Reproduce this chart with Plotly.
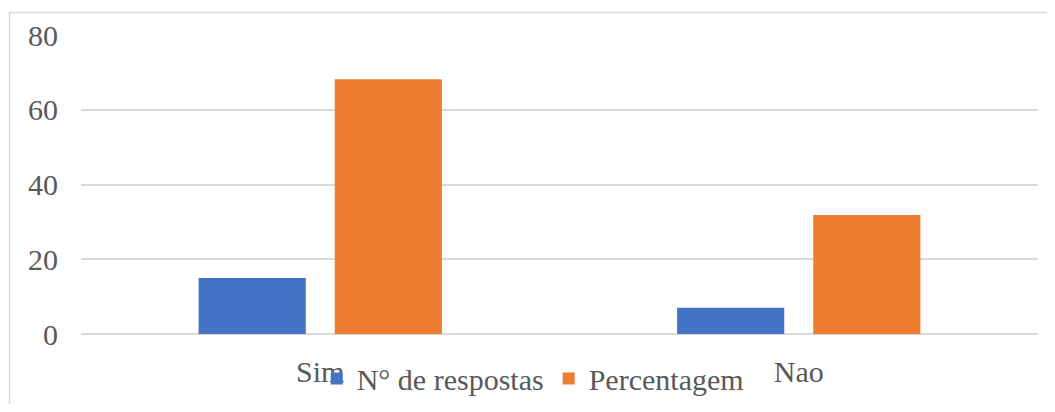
import plotly.graph_objects as go

categories = ["Sim", "Nao"]
respostas = [15, 7]
percentagem = [68.18, 31.82]
y_ticks = [0, 20, 40, 60, 80]

# page body has an 8px margin, so the figure starts at (8, 8)
OFF = 8
W, H = 1055 - 2 * OFF, 412 - 2 * OFF
ml, mt = 81 - OFF, 35 - OFF
pw, ph = 957, 299
mr, mb = W - ml - pw, H - mt - ph

def px_x(x):
    return (x - OFF - ml) / pw

def px_y(y):
    return (mt + ph - (y - OFF)) / ph

font_family = "Liberation Serif, Times New Roman, serif"
txt_color = "#595959"
grid_color = "#d9d9d9"
fs = 30

fig = go.Figure()
fig.add_trace(go.Bar(name="N° de respostas", x=categories, y=respostas,
                     marker=dict(color="#4472C4", line=dict(width=0))))
fig.add_trace(go.Bar(name="Percentagem", x=categories, y=percentagem,
                     marker=dict(color="#ED7D31", line=dict(width=0))))

fig.update_layout(
    width=W, height=H,
    margin=dict(l=ml, r=mr, t=mt, b=mb, autoexpand=False),
    paper_bgcolor="white", plot_bgcolor="white",
    barmode="group", bargap=0.431, bargroupgap=0.213,
    font=dict(family=font_family, size=fs, color=txt_color),
    showlegend=True,
    legend=dict(orientation="h", x=0.472, xanchor="center", y=-0.062, yanchor="top",
                font=dict(family=font_family, size=fs, color=txt_color),
                bgcolor="rgba(0,0,0,0)", itemwidth=30),
    xaxis=dict(showgrid=False, showline=False, zeroline=False, ticks="", automargin=False,
               tickfont=dict(family=font_family, size=fs, color=txt_color),
               ticklabelstandoff=17),
    yaxis=dict(range=[0, 80], tickvals=y_ticks, showgrid=True, gridcolor=grid_color,
               gridwidth=1.5, zeroline=True, zerolinecolor=grid_color, zerolinewidth=1.5,
               showline=False, ticks="", automargin=False,
               tickfont=dict(family=font_family, size=fs, color=txt_color),
               ticklabelstandoff=22),
    shapes=[dict(type="rect", xref="paper", yref="paper",
                 x0=px_x(9.5), x1=px_x(1065), y0=px_y(425), y1=px_y(12.5),
                 line=dict(color=grid_color, width=1.5), fillcolor="rgba(0,0,0,0)",
                 layer="below")],
)

fig.write_html("out.html")
